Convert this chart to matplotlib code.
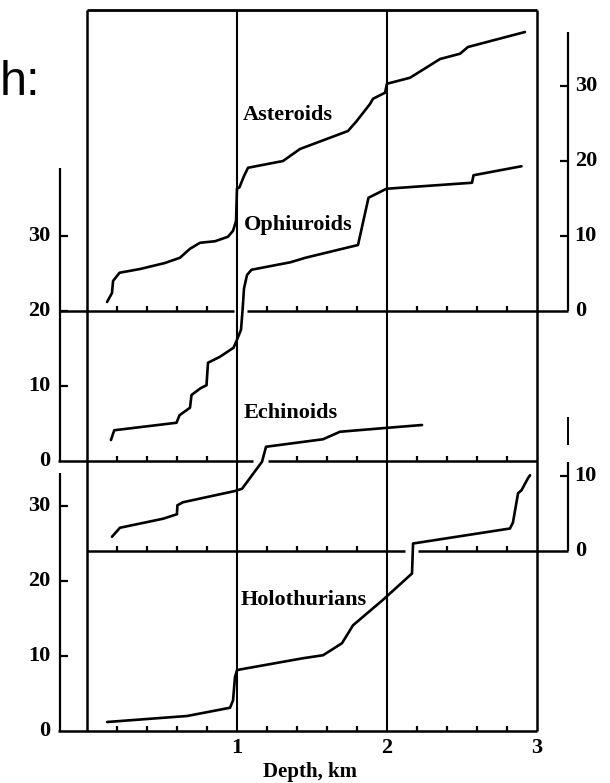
import matplotlib
matplotlib.use("Agg")
import matplotlib.pyplot as plt
import numpy as np

# ---------------- data (depth in km, cumulative number of species) ----------------
ast_depth = [0.137, 0.17, 0.177, 0.22, 0.357, 0.523, 0.623, 0.69, 0.757, 0.857, 0.943, 0.977,
             0.997, 1.003, 1.02, 1.05, 1.077, 1.31, 1.423, 1.743, 1.80, 1.89, 1.91, 1.99,
             2.003, 2.157, 2.357, 2.49, 2.543, 2.923]
ast_count = [1.2, 2.4, 4.0, 5.1, 5.6, 6.4, 7.1, 8.3, 9.1, 9.3, 9.9, 10.7,
             12.0, 16.3, 16.5, 18.0, 19.1, 20.0, 21.6, 24.0, 25.3, 27.6, 28.3, 29.1,
             30.3, 31.1, 33.6, 34.3, 35.2, 37.2]

oph_depth = [0.163, 0.185, 0.60, 0.62, 0.69, 0.70, 0.76, 0.80, 0.81, 0.89, 0.98, 1.0,
             1.03, 1.04, 1.05, 1.07, 1.10, 1.36, 1.46, 1.81, 1.88, 2.0, 2.57, 2.58, 2.90]
oph_count = [2.8, 4.1, 5.1, 6.1, 7.1, 8.8, 9.7, 10.1, 13.1, 13.9, 15.1, 16.0,
             17.5, 20.0, 23.0, 24.8, 25.5, 26.5, 27.1, 28.8, 35.1, 36.3, 37.1, 38.1, 39.3]

ech_depth = [0.17, 0.223, 0.51, 0.603, 0.606, 0.643, 0.99, 1.037, 1.17, 1.197, 1.577, 1.69,
             1.99, 2.237]
ech_count = [1.9, 3.1, 4.3, 4.9, 6.1, 6.5, 8.0, 8.3, 11.9, 13.9, 14.9, 15.9, 16.4, 16.8]

hol_depth = [0.137, 0.67, 0.957, 0.977, 0.99, 1.003, 1.023, 1.443, 1.577, 1.703, 1.777,
             1.977, 2.17, 2.177, 2.823, 2.843, 2.877, 2.90, 2.943, 2.957]
hol_count = [1.2, 2.0, 3.1, 4.1, 7.2, 8.1, 8.2, 9.7, 10.1, 11.7, 14.1,
             17.5, 21.0, 25.0, 27.0, 27.8, 31.7, 32.1, 33.7, 34.1]

group_names = ["Asteroids", "Ophiuroids", "Echinoids", "Holothurians"]
left_ticks = [0, 10, 20, 30]
right_upper_ticks = [0, 10, 20, 30]
right_lower_ticks = [0, 10]
x_ticks = [1, 2, 3]
x_label = "Depth, km"

# vertical offsets of each panel's zero line (in species units)
OFF_AST, OFF_OPH, OFF_ECH, OFF_HOL = 56, 36, 24, 0
TOP = 96.1
XL_AX, XR_AX = -0.177, 3.21   # positions of outer scale bars

fig = plt.figure(figsize=(6.1, 7.83), dpi=100)
ax = fig.add_axes([0, 0, 1, 1])
ax.set_xlim(-86.5 / 150, (610 - 86.5) / 150)
ax.set_ylim(-52 / 7.5, 731 / 7.5)
ax.axis("off")

K = "black"
LW = 1.6
serif = ["Liberation Serif", "DejaVu Serif"]
FS_TICK = 16
FS_LAB = 16

def seg(x0, x1, y0, y1, lw=LW):
    ax.plot([x0, x1], [y0, y1], color=K, lw=lw, solid_capstyle="butt")

# frame and vertical grid lines
for xv in [0, 1, 2, 3]:
    seg(xv, xv, 0, TOP, lw=1.5 if xv in (1, 2) else 1.8)
seg(0, 3, TOP, TOP, lw=2.0)

# zero lines (with gaps where curves cross)
baselines = [
    (OFF_AST, [(XL_AX, 0.98), (1.07, XR_AX)]),
    (OFF_OPH, [(XL_AX - 0.01, 1.11), (1.21, 3.0)]),
    (OFF_ECH, [(0, 2.12), (2.21, XR_AX)]),
    (OFF_HOL, [(XL_AX - 0.01, 3.0)]),
]
minor = np.arange(0.2, 3.0, 0.2)
for yb, spans in baselines:
    for a, b in spans:
        seg(a, b, yb, yb, lw=1.8)
        for m in minor:
            if abs(m - round(m)) > 0.05 and a + 0.02 < m < b - 0.02:
                seg(m, m, yb, yb + 0.7, lw=1.6)

# left scale bars
seg(XL_AX, XL_AX, OFF_OPH, OFF_OPH + 39.1, lw=1.6)
seg(XL_AX, XL_AX, 0, 34.4, lw=1.6)
TL = 0.055
for off, ticks in [(OFF_OPH, left_ticks), (OFF_HOL, left_ticks)]:
    for t in ticks:
        if t:
            seg(XL_AX, XL_AX + TL, off + t, off + t, lw=1.6)
        ax.text(XL_AX - 0.065, off + t, str(t), ha="right", va="center",
                fontsize=FS_TICK, family=serif, fontweight="bold")

# right scale bars
seg(XR_AX, XR_AX, OFF_AST, OFF_AST + 37.2, lw=1.6)
seg(XR_AX, XR_AX, OFF_ECH, OFF_ECH + 11.9, lw=1.6)
seg(XR_AX, XR_AX, OFF_ECH + 14.1, OFF_ECH + 17.9, lw=1.4)
for off, ticks in [(OFF_AST, right_upper_ticks), (OFF_ECH, right_lower_ticks)]:
    for t in ticks:
        if t:
            seg(XR_AX - TL, XR_AX, off + t, off + t, lw=1.6)
        ax.text(XR_AX + 0.045, off + t, str(t), ha="left", va="center",
                fontsize=FS_TICK, family=serif, fontweight="bold")

# curves
curves = [
    (ast_depth, ast_count, OFF_AST),
    (oph_depth, oph_count, OFF_OPH),
    (ech_depth, ech_count, OFF_ECH),
    (hol_depth, hol_count, OFF_HOL),
]
for d, c, off in curves:
    ax.plot(d, np.asarray(c) + off, color=K, lw=1.9, solid_joinstyle="round",
            solid_capstyle="round")

# group labels
label_pos = [(1.04, 82.1), (1.05, 67.5), (1.05, 42.4), (1.03, 17.5)]
for name, (lx, ly) in zip(group_names, label_pos):
    ax.text(lx, ly, name, ha="left", va="center", fontsize=FS_LAB,
            family=serif, fontweight="bold")

# x tick labels & title
for t in x_ticks:
    ax.text(t, -2.3, str(t), ha="center", va="center", fontsize=FS_TICK,
            family=serif, fontweight="bold")
ax.text(1.49, -5.5, x_label, ha="center", va="center", fontsize=15,
        family=serif, fontweight="bold")

# slide fragment at top-left
fig.text(0.0, 1 - 95 / 783, "h:", ha="left", va="baseline", fontsize=35,
         family=["Liberation Sans", "DejaVu Sans"])

fig.savefig("out.png", dpi=100, facecolor="white")
